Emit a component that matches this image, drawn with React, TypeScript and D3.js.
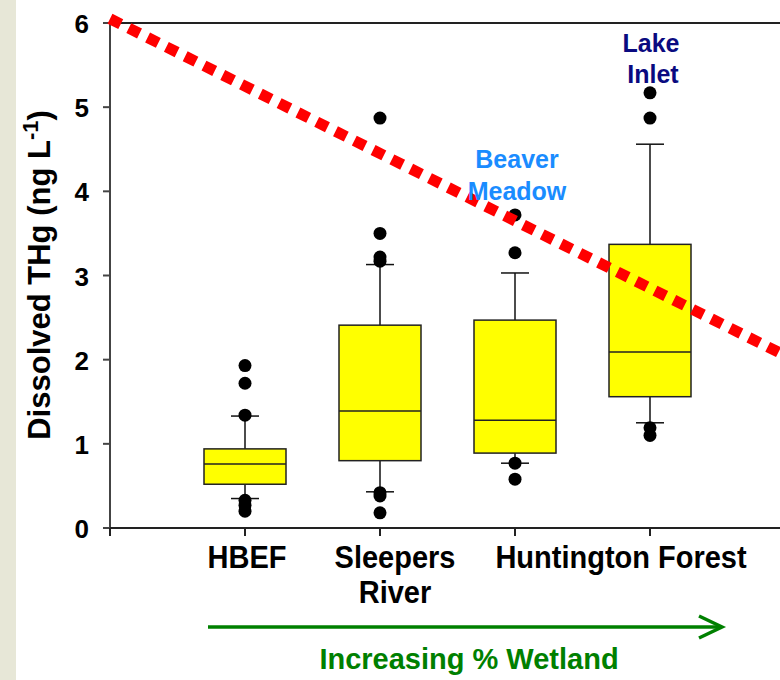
import React from "react";
import * as d3 from "d3";

// box statistics per site (ng/L)
const sites = ["HBEF", "Sleepers River", "Beaver Meadow", "Lake Inlet"];
const q1 = [0.52, 0.8, 0.89, 1.56];
const median = [0.76, 1.39, 1.28, 2.09];
const q3 = [0.94, 2.41, 2.47, 3.37];
const whiskerLow = [0.35, 0.43, 0.77, 1.25];
const whiskerHigh = [1.33, 3.13, 3.03, 4.56];
const outliers = [
  [1.93, 1.72, 1.34, 0.33, 0.27, 0.2],
  [4.87, 3.5, 3.22, 3.17, 0.42, 0.38, 0.18],
  [3.72, 3.27, 0.77, 0.58],
  [5.17, 4.87, 1.19, 1.1],
];
const yTicks = [0, 1, 2, 3, 4, 5, 6];
const xTickPos = [0, 1, 2, 3, 4, 5];
// red dotted trend line: [position, value]
const trend: [number, number][] = [
  [0, 6.05],
  [5, 2.05],
];

const W = 780;
const H = 680;
const font = "'Liberation Sans', Arial, sans-serif";

// bold label, slightly stretched vertically like the source figure
const Label = (p: { x: number; y: number; children: React.ReactNode }) => (
  <text transform={`translate(${p.x},${p.y}) scale(1,1.08)`}>{p.children}</text>
);

export default function App() {
  const y = d3.scaleLinear().domain([0, 6]).range([528, 23]);
  const x = d3.scaleLinear().domain([0, 5]).range([110, 785]);
  const boxW = 82;
  const capW = 28;
  const trendLine = d3
    .line<[number, number]>()
    .x((d) => x(d[0]))
    .y((d) => y(d[1]));

  return (
    <svg
      width={W}
      height={H}
      style={{ position: "absolute", left: 0, top: 0, background: "#fff" }}
      fontFamily={font}
    >
      <rect x={0} y={0} width={W} height={H} fill="#ffffff" />
      <rect x={0} y={0} width={16} height={H} fill="#e7e7d7" />

      {/* axes frame */}
      <line x1={110} x2={W} y1={y(6)} y2={y(6)} stroke="#222" strokeWidth={2} />
      <line x1={110} x2={110} y1={y(6) - 1} y2={y(0)} stroke="#444" strokeWidth={2} />
      <line x1={103} x2={W} y1={y(0)} y2={y(0)} stroke="#222" strokeWidth={2} />
      {yTicks.map((t) => (
        <g key={"yt" + t}>
          <line x1={103} x2={110} y1={y(t)} y2={y(t)} stroke="#444" strokeWidth={2} />
          <text
            x={89}
            y={y(t) + 10}
            textAnchor="end"
            fontSize={26}
            fontWeight="bold"
            fill="#000"
          >
            {t}
          </text>
        </g>
      ))}
      {xTickPos.map((p) => (
        <line
          key={"xt" + p}
          x1={x(p)}
          x2={x(p)}
          y1={y(0)}
          y2={y(0) + 8}
          stroke="#222"
          strokeWidth={2}
        />
      ))}

      {/* boxes */}
      {sites.map((s, i) => {
        const cx = x(i + 1);
        return (
          <g key={s}>
            <line x1={cx} x2={cx} y1={y(q3[i])} y2={y(whiskerHigh[i])} stroke="#111" strokeWidth={1.5} />
            <line x1={cx} x2={cx} y1={y(q1[i])} y2={y(whiskerLow[i])} stroke="#111" strokeWidth={1.5} />
            <line
              x1={cx - capW / 2}
              x2={cx + capW / 2}
              y1={y(whiskerHigh[i])}
              y2={y(whiskerHigh[i])}
              stroke="#111"
              strokeWidth={1.5}
            />
            <line
              x1={cx - capW / 2}
              x2={cx + capW / 2}
              y1={y(whiskerLow[i])}
              y2={y(whiskerLow[i])}
              stroke="#111"
              strokeWidth={1.5}
            />
            <rect
              x={cx - boxW / 2}
              y={y(q3[i])}
              width={boxW}
              height={y(q1[i]) - y(q3[i])}
              fill="#ffff00"
              stroke="#222"
              strokeWidth={1.5}
            />
            <line
              x1={cx - boxW / 2}
              x2={cx + boxW / 2}
              y1={y(median[i])}
              y2={y(median[i])}
              stroke="#222"
              strokeWidth={1.5}
            />
            {outliers[i].map((v, j) => (
              <circle key={j} cx={cx} cy={y(v)} r={6.5} fill="#000" />
            ))}
          </g>
        );
      })}

      {/* trend */}
      <path
        d={trendLine(trend) || ""}
        fill="none"
        stroke="#ff0000"
        strokeWidth={11}
        strokeDasharray="12 9"
      />

      {/* site annotations */}
      <g fontWeight="bold" fontSize={25} textAnchor="middle">
        <text x={x(3) + 2} y={168} fill="#1a8cff">Beaver</text>
        <text x={x(3) + 2} y={200} fill="#1a8cff">Meadow</text>
        <text x={x(4) + 1} y={52} fill="#0a0a80">Lake</text>
        <text x={x(4) + 3} y={83} fill="#0a0a80">Inlet</text>
      </g>

      {/* x labels */}
      <g fontWeight="bold" fontSize={29} textAnchor="middle" fill="#000">
        <Label x={x(1) + 2} y={568}>HBEF</Label>
        <Label x={x(2) + 15} y={568}>Sleepers</Label>
        <Label x={x(2) + 15} y={603}>River</Label>
        <Label x={621} y={568}>Huntington Forest</Label>
      </g>

      {/* y title */}
      <text
        transform="translate(50,275) rotate(-90)"
        textAnchor="middle"
        fontWeight="bold"
        fontSize={31}
        fill="#000"
      >
        Dissolved THg (ng L
        <tspan fontSize={22} dy={-12}>-1</tspan>
        <tspan dy={12}>)</tspan>
      </text>

      {/* wetland arrow */}
      <g stroke="#008000" strokeWidth={3.5} fill="none">
        <line x1={208} x2={722} y1={627} y2={627} />
        <polyline points="699,616 722,627 699,638" />
      </g>
      <text
        x={469}
        y={669}
        textAnchor="middle"
        fontWeight="bold"
        fontSize={29}
        fill="#008000"
      >
        Increasing % Wetland
      </text>
    </svg>
  );
}
